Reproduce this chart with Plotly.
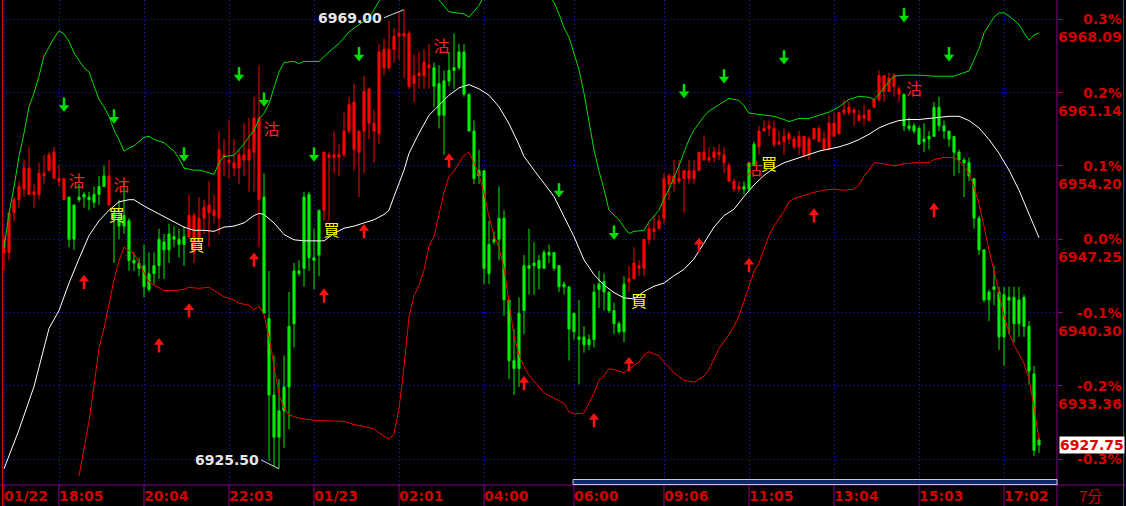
import plotly.graph_objects as go

# ---------------- DATA ----------------
# 7-minute bars, index 0..207
opens = [6946.00, 6946.00, 6949.75, 6951.00, 6952.00, 6951.50, 6951.50, 6951.50, 6953.25, 6953.75,
         6953.00, 6952.75, 6951.00, 6951.25, 6950.50, 6951.25, 6951.50, 6951.25, 6951.50, 6952.25,
         6953.25, 6950.50, 6949.75, 6949.25, 6949.50, 6949.00, 6945.25, 6945.00, 6944.75, 6944.00,
         6944.75, 6947.25, 6947.00, 6947.75, 6947.50, 6947.25, 6947.50, 6947.50, 6946.00, 6947.00,
         6949.25, 6949.75, 6949.50, 6949.25, 6955.00, 6954.50, 6954.00, 6954.00, 6954.75, 6954.75,
         6955.50, 6951.00, 6951.25, 6939.75, 6932.50, 6931.00, 6933.25, 6939.00, 6944.25, 6944.25,
         6951.25, 6951.50, 6945.50, 6950.00, 6950.00, 6955.00, 6955.00, 6955.00, 6955.25, 6957.50,
         6955.75, 6955.50, 6957.50, 6958.25, 6957.50, 6957.25, 6963.50, 6963.50, 6965.25, 6966.50,
         6966.50, 6961.75, 6962.00, 6962.75, 6962.75, 6963.50, 6963.50, 6962.00, 6962.25, 6963.25,
         6963.50, 6965.00, 6965.00, 6961.00, 6957.50, 6953.75, 6953.75, 6946.75, 6947.25, 6949.25,
         6949.25, 6941.50, 6935.75, 6940.25, 6944.75, 6944.75, 6945.00, 6945.25, 6946.00, 6946.00,
         6946.00, 6944.75, 6943.00, 6942.75, 6940.25, 6938.00, 6938.00, 6937.75, 6942.25, 6943.00,
         6943.25, 6942.25, 6940.50, 6939.25, 6943.00, 6943.25, 6943.50, 6944.50, 6944.50, 6947.25,
         6948.00, 6948.25, 6949.25, 6952.50, 6952.50, 6952.75, 6953.00, 6953.00, 6953.00, 6953.75,
         6954.75, 6954.75, 6955.00, 6955.25, 6954.50, 6952.75, 6952.00, 6952.00, 6952.25, 6954.50,
         6956.25, 6956.00, 6957.50, 6957.75, 6956.25, 6956.25, 6956.50, 6956.75, 6956.00, 6956.00,
         6955.25, 6955.25, 6956.75, 6956.50, 6955.75, 6955.75, 6957.00, 6957.25, 6959.25, 6959.25,
         6959.25, 6958.50, 6958.75, 6958.50, 6959.75, 6960.50, 6961.25, 6961.25, 6961.75, 6961.00,
         6961.00, 6958.00, 6958.00, 6957.75, 6956.75, 6957.00, 6959.75, 6959.75, 6958.00, 6957.50,
         6957.00, 6955.50, 6954.75, 6954.50, 6953.00, 6949.25, 6946.25, 6942.25, 6942.75, 6942.25,
         6942.00, 6941.75, 6941.75, 6941.50, 6941.75, 6939.00, 6934.50, 6928.25]
highs = [6947.75, 6949.75, 6951.25, 6952.75, 6954.75, 6956.00, 6952.50, 6954.50, 6955.25, 6955.50,
         6956.00, 6954.25, 6953.00, 6951.25, 6950.50, 6952.50, 6951.75, 6951.75, 6952.25, 6953.25,
         6954.25, 6954.75, 6950.25, 6951.00, 6952.75, 6949.25, 6946.00, 6945.50, 6946.75, 6946.00,
         6946.00, 6948.25, 6947.75, 6948.75, 6948.50, 6948.25, 6948.50, 6951.50, 6949.75, 6951.25,
         6951.00, 6952.75, 6951.50, 6957.50, 6956.75, 6958.50, 6956.75, 6955.75, 6958.25, 6958.75,
         6960.75, 6963.75, 6953.50, 6944.25, 6936.25, 6934.00, 6936.25, 6942.25, 6945.00, 6945.25,
         6951.75, 6951.75, 6948.25, 6950.00, 6955.50, 6955.50, 6957.50, 6956.25, 6959.25, 6960.75,
         6962.00, 6957.50, 6962.75, 6961.50, 6959.50, 6965.75, 6966.25, 6968.00, 6967.25, 6968.75,
         6969.00, 6967.00, 6964.75, 6965.00, 6965.25, 6965.75, 6964.00, 6963.75, 6963.25, 6965.00,
         6966.75, 6965.75, 6965.75, 6961.00, 6958.50, 6955.75, 6953.75, 6949.00, 6948.00, 6952.25,
         6950.00, 6941.50, 6938.75, 6941.75, 6945.75, 6948.25, 6947.00, 6945.75, 6946.25, 6946.75,
         6946.00, 6944.75, 6943.25, 6942.75, 6940.25, 6941.50, 6939.00, 6938.25, 6943.00, 6944.25,
         6944.00, 6942.25, 6941.25, 6939.50, 6943.75, 6944.75, 6946.50, 6945.25, 6947.25, 6948.75,
         6949.50, 6949.50, 6953.50, 6953.50, 6954.75, 6954.75, 6953.75, 6954.75, 6954.75, 6955.50,
         6957.00, 6956.00, 6956.00, 6956.25, 6956.00, 6954.50, 6953.00, 6952.75, 6952.75, 6954.50,
         6956.50, 6958.00, 6958.50, 6958.50, 6958.50, 6957.50, 6957.75, 6957.50, 6957.00, 6957.50,
         6957.00, 6957.00, 6957.75, 6958.00, 6957.50, 6959.00, 6959.25, 6959.25, 6960.50, 6960.25,
         6959.75, 6959.50, 6960.00, 6959.50, 6960.50, 6963.25, 6962.75, 6963.00, 6963.00, 6961.75,
         6961.00, 6958.75, 6958.25, 6958.00, 6958.25, 6957.50, 6960.25, 6960.75, 6958.50, 6957.50,
         6957.00, 6955.75, 6955.00, 6955.00, 6953.00, 6949.50, 6946.25, 6942.50, 6944.75, 6942.75,
         6942.75, 6942.75, 6942.75, 6942.75, 6942.00, 6939.50, 6935.25, 6928.50]
lows = [6944.25, 6945.25, 6949.00, 6950.25, 6951.25, 6951.50, 6950.25, 6951.00, 6952.50, 6953.75,
        6953.00, 6952.25, 6951.00, 6946.50, 6946.25, 6950.75, 6950.25, 6950.00, 6950.25, 6950.50,
        6952.25, 6950.50, 6945.00, 6947.25, 6947.75, 6944.25, 6944.25, 6943.75, 6941.75, 6942.25,
        6943.00, 6943.50, 6943.50, 6945.00, 6946.50, 6945.50, 6944.75, 6947.25, 6945.00, 6946.25,
        6947.75, 6946.50, 6948.75, 6947.75, 6953.25, 6953.00, 6953.25, 6952.50, 6953.25, 6951.75,
        6951.75, 6946.50, 6940.25, 6926.25, 6925.75, 6925.50, 6927.50, 6929.25, 6937.00, 6943.75,
        6942.75, 6944.25, 6942.50, 6943.75, 6949.00, 6949.00, 6953.50, 6953.25, 6955.00, 6957.25,
        6953.75, 6951.25, 6953.50, 6956.75, 6954.50, 6956.25, 6962.75, 6963.25, 6964.00, 6964.25,
        6962.50, 6961.50, 6960.25, 6961.50, 6961.50, 6961.50, 6959.75, 6957.75, 6955.25, 6961.75,
        6961.50, 6963.25, 6960.75, 6957.50, 6952.50, 6952.50, 6943.00, 6943.00, 6946.75, 6945.25,
        6940.00, 6934.00, 6932.50, 6933.25, 6938.25, 6942.00, 6942.00, 6942.50, 6944.50, 6945.00,
        6944.25, 6942.25, 6942.00, 6935.75, 6937.75, 6933.50, 6936.50, 6936.75, 6937.00, 6940.75,
        6940.50, 6940.25, 6938.25, 6938.25, 6937.50, 6942.25, 6943.50, 6943.75, 6943.75, 6946.75,
        6947.25, 6948.25, 6948.75, 6951.00, 6951.75, 6952.50, 6949.75, 6952.50, 6952.50, 6953.75,
        6954.75, 6954.50, 6954.50, 6954.75, 6953.50, 6952.75, 6951.75, 6951.75, 6951.50, 6951.75,
        6954.25, 6955.25, 6957.50, 6957.00, 6956.00, 6956.25, 6955.25, 6956.25, 6955.75, 6955.25,
        6955.00, 6954.75, 6956.75, 6956.50, 6955.75, 6955.75, 6957.00, 6957.25, 6959.00, 6959.00,
        6958.00, 6958.50, 6958.00, 6958.50, 6959.75, 6960.25, 6960.25, 6961.25, 6960.75, 6960.25,
        6957.50, 6957.50, 6957.25, 6956.25, 6955.50, 6955.75, 6957.00, 6957.50, 6956.75, 6956.00,
        6953.25, 6953.50, 6951.25, 6952.75, 6948.25, 6945.75, 6941.25, 6939.50, 6941.00, 6936.75,
        6935.25, 6938.25, 6937.50, 6938.00, 6938.00, 6933.50, 6926.75, 6927.00]
closes = [6947.25, 6949.75, 6951.00, 6952.25, 6954.00, 6954.00, 6951.75, 6953.50, 6953.50, 6955.25,
          6955.50, 6953.00, 6953.00, 6947.25, 6947.25, 6951.00, 6951.25, 6951.00, 6950.75, 6951.50,
          6952.25, 6953.25, 6949.25, 6948.50, 6948.50, 6945.25, 6945.00, 6944.50, 6942.75, 6942.50,
          6944.00, 6944.75, 6946.25, 6946.25, 6947.25, 6946.75, 6946.75, 6949.50, 6949.50, 6949.25,
          6950.25, 6950.50, 6950.00, 6955.75, 6955.25, 6954.75, 6954.50, 6955.25, 6955.25, 6955.75,
          6958.75, 6958.75, 6940.25, 6932.50, 6928.50, 6928.50, 6931.00, 6933.25, 6939.25, 6944.00,
          6944.50, 6945.50, 6945.25, 6945.75, 6955.50, 6955.25, 6955.25, 6955.25, 6957.50, 6960.00,
          6960.25, 6957.50, 6961.25, 6961.50, 6958.25, 6965.00, 6965.25, 6965.25, 6966.50, 6966.75,
          6966.75, 6966.75, 6962.75, 6963.00, 6964.00, 6963.75, 6961.75, 6959.00, 6959.00, 6962.25,
          6963.25, 6963.50, 6961.00, 6957.50, 6953.00, 6953.25, 6944.50, 6944.00, 6947.00, 6947.25,
          6941.50, 6935.75, 6935.00, 6935.00, 6940.50, 6944.50, 6944.75, 6944.50, 6944.50, 6945.75,
          6944.50, 6942.75, 6942.75, 6938.75, 6938.50, 6937.75, 6937.25, 6937.25, 6937.75, 6942.50,
          6942.25, 6940.50, 6939.25, 6938.50, 6938.50, 6943.50, 6945.00, 6944.75, 6947.25, 6948.25,
          6948.25, 6949.00, 6953.00, 6953.25, 6953.25, 6953.00, 6953.75, 6953.75, 6953.75, 6955.50,
          6955.50, 6955.00, 6955.50, 6955.50, 6955.25, 6954.25, 6952.75, 6952.25, 6952.00, 6952.00,
          6954.25, 6957.50, 6957.75, 6958.00, 6957.75, 6956.50, 6957.00, 6957.25, 6956.75, 6957.00,
          6957.00, 6956.75, 6957.75, 6957.75, 6956.75, 6958.25, 6958.25, 6959.25, 6959.50, 6959.75,
          6959.50, 6959.00, 6959.00, 6959.50, 6960.50, 6962.75, 6962.75, 6962.50, 6962.75, 6961.50,
          6958.00, 6957.75, 6957.50, 6956.25, 6956.50, 6956.75, 6957.00, 6958.00, 6957.50, 6956.75,
          6955.50, 6954.75, 6954.50, 6953.25, 6949.25, 6946.25, 6941.50, 6941.50, 6942.50, 6938.00,
          6938.00, 6941.50, 6939.25, 6939.25, 6939.00, 6934.75, 6927.25, 6927.75]
bar_idx = list(range(len(closes)))

# middle (white) line
mid_idx = [0, 3, 6, 9, 11, 13, 15, 17, 19, 21, 23, 25, 26, 28, 30, 32, 34, 36, 38, 40, 42, 44, 46, 48, 50,
           51, 52, 54, 56, 58, 60, 62, 64, 66, 68, 70, 72, 74, 76, 77, 78, 80, 81, 83, 85, 87, 89, 91, 93,
           95, 97, 99, 101, 103, 104, 106, 108, 110, 112, 114, 116, 118, 120, 122, 124, 126, 128, 130,
           132, 134, 136, 138, 140, 142, 144, 146, 148, 150, 152, 154, 156, 159, 161, 163, 165, 167, 169,
           171, 173, 175, 177, 179, 181, 183, 185, 187, 189, 191, 193, 195, 197, 199, 201, 203, 205, 207]
mid_val = [6925.5, 6929.2, 6933.3, 6938.8, 6940.5, 6943.1, 6945.4, 6947.6, 6949.0, 6950.0, 6950.8, 6951.0,
           6951.0, 6950.4, 6949.9, 6949.4, 6948.9, 6948.4, 6948.1, 6948.1, 6948.0, 6948.4, 6948.5, 6948.8,
           6949.5, 6949.7, 6949.6, 6948.8, 6947.7, 6947.2, 6947.1, 6947.1, 6947.1, 6947.8, 6948.3, 6948.5,
           6948.8, 6949.1, 6949.6, 6950.0, 6951.3, 6953.8, 6955.4, 6957.3, 6959.0, 6960.0, 6960.9, 6961.6,
           6961.9, 6961.5, 6960.9, 6959.8, 6958.2, 6956.2, 6955.1, 6953.8, 6952.6, 6951.3, 6949.4, 6947.5,
           6945.3, 6943.9, 6942.9, 6942.2, 6941.7, 6941.6, 6942.3, 6942.8, 6943.1, 6943.8, 6944.4, 6945.4,
           6946.9, 6948.4, 6949.5, 6950.1, 6951.3, 6952.4, 6953.3, 6954.0, 6954.5, 6955.0, 6955.3, 6955.6,
           6955.8, 6956.0, 6956.3, 6956.7, 6957.2, 6957.8, 6958.2, 6958.5, 6958.6, 6958.6, 6958.7, 6958.8,
           6958.9, 6958.9, 6958.5, 6957.8, 6956.7, 6955.4, 6953.8, 6951.9, 6949.7, 6947.4]

# upper (green) band
up_idx = [0, 1, 2, 3, 4, 5, 6, 7, 8, 9, 10, 11, 12, 13, 14, 15, 16, 17, 18, 19, 20, 21, 22, 23, 24, 25, 26,
          28, 29, 30, 32, 33, 34, 35, 36, 38, 39, 40, 42, 43, 44, 46, 47, 48, 50, 51, 52, 53, 54, 55, 56, 58,
          59, 60, 63, 65, 67, 69, 71, 73, 75, 77, 80, 84, 86, 88, 89, 92, 93, 95, 96, 100, 104, 108, 110,
          111, 112, 113, 114, 115, 116, 117, 118, 119, 120, 121, 122, 123, 124, 125, 126, 128, 129, 130,
          131, 132, 133, 134, 135, 136, 137, 138, 139, 140, 141, 143, 144, 145, 147, 148, 149, 151, 152,
          154, 156, 157, 159, 161, 163, 165, 167, 169, 171, 173, 174, 175, 177, 178, 180, 183, 186, 190,
          193, 194, 195, 196, 197, 198, 199, 200, 201, 203, 204, 205, 206, 207]
up_val = [6946.4, 6949.7, 6952.2, 6955.1, 6957.3, 6959.8, 6961.1, 6962.7, 6964.6, 6965.5, 6966.3, 6967.0,
          6966.7, 6966.0, 6964.9, 6964.2, 6963.5, 6963.1, 6961.7, 6960.5, 6959.8, 6958.9, 6957.6, 6956.7,
          6955.6, 6955.9, 6956.1, 6956.9, 6957.0, 6956.7, 6956.4, 6956.0, 6955.6, 6954.9, 6954.0, 6953.8,
          6953.8, 6953.7, 6953.4, 6954.5, 6955.1, 6955.2, 6955.7, 6956.3, 6957.6, 6958.6, 6959.2, 6960.1,
          6961.6, 6963.1, 6964.0, 6964.1, 6963.9, 6964.1, 6964.1, 6965.0, 6965.8, 6966.9, 6967.6, 6968.2,
          6969.8, 6971.0, 6972.0, 6971.5, 6970.5, 6969.4, 6968.8, 6968.6, 6968.3, 6969.4, 6970.3, 6972.5,
          6972.5, 6971.0, 6969.7, 6968.6, 6967.3, 6966.4, 6964.9, 6963.3, 6961.1, 6958.5, 6955.7, 6953.7,
          6952.0, 6950.0, 6949.5, 6949.1, 6948.4, 6947.8, 6948.0, 6948.1, 6948.9, 6949.4, 6950.0, 6951.1,
          6952.0, 6953.1, 6954.2, 6955.5, 6956.7, 6957.6, 6958.3, 6958.9, 6959.4, 6960.0, 6960.3, 6960.6,
          6960.4, 6959.9, 6959.2, 6959.1, 6959.0, 6958.9, 6958.6, 6958.4, 6958.7, 6958.7, 6959.0, 6959.3,
          6959.8, 6960.5, 6960.8, 6960.7, 6960.5, 6961.0, 6962.2, 6962.7, 6962.8, 6962.8, 6962.7, 6962.7,
          6963.2, 6964.2, 6965.3, 6966.8, 6967.5, 6968.3, 6968.7, 6968.7, 6968.4, 6967.6, 6966.8, 6966.1,
          6966.6, 6966.8]

# lower (red) band
lo_idx = [15, 16, 17, 18, 19, 20, 21, 22, 23, 24, 25, 26, 27, 28, 29, 30, 32, 34, 36, 37, 39, 41, 43, 44,
          46, 47, 49, 50, 51, 52, 53, 54, 55, 56, 57, 59, 62, 68, 70, 72, 74, 75, 77, 78, 79, 80, 81, 82,
          83, 84, 85, 86, 87, 88, 89, 90, 91, 92, 93, 94, 95, 96, 97, 98, 99, 100, 101, 102, 103, 104, 105,
          107, 108, 110, 112, 113, 114, 116, 117, 118, 119, 120, 121, 122, 124, 125, 127, 128, 129, 131,
          132, 134, 136, 138, 140, 141, 142, 143, 145, 146, 147, 148, 149, 150, 151, 152, 153, 154, 155,
          156, 157, 158, 160, 162, 164, 166, 168, 170, 171, 172, 173, 174, 176, 178, 180, 182, 185, 186,
          188, 190, 191, 193, 194, 195, 196, 197, 198, 199, 200, 201, 202, 203, 204, 205, 206, 207]
lo_val = [6924.8, 6927.3, 6930.0, 6933.4, 6936.9, 6938.8, 6941.0, 6943.4, 6945.2, 6946.5, 6946.2, 6945.9,
          6945.0, 6944.1, 6943.2, 6942.9, 6942.4, 6942.4, 6942.5, 6942.7, 6942.6, 6942.7, 6942.1, 6941.8,
          6941.5, 6941.2, 6941.0, 6940.6, 6940.9, 6940.1, 6938.0, 6935.4, 6932.5, 6931.3, 6930.6, 6930.3,
          6930.1, 6930.0, 6929.7, 6929.5, 6929.3, 6928.9, 6928.3, 6928.8, 6931.2, 6935.2, 6939.9, 6941.9,
          6942.9, 6944.3, 6946.6, 6947.5, 6949.6, 6951.7, 6953.2, 6953.7, 6954.5, 6955.2, 6955.5, 6954.5,
          6953.4, 6951.6, 6949.4, 6947.6, 6946.4, 6944.5, 6941.2, 6938.1, 6936.3, 6935.2, 6934.4, 6933.2,
          6932.7, 6932.2, 6931.7, 6930.9, 6930.7, 6930.8, 6931.7, 6932.7, 6933.9, 6934.3, 6935.0, 6934.9,
          6934.6, 6935.0, 6935.6, 6936.3, 6936.6, 6936.2, 6935.6, 6934.6, 6933.9, 6933.7, 6934.3, 6934.9,
          6935.9, 6936.9, 6938.2, 6939.0, 6940.0, 6941.4, 6942.9, 6944.2, 6945.0, 6946.4, 6947.6, 6948.5,
          6949.2, 6949.9, 6950.8, 6951.1, 6951.4, 6951.7, 6951.9, 6952.0, 6951.9, 6952.0, 6952.4, 6953.2,
          6953.8, 6954.5, 6954.4, 6954.2, 6954.4, 6954.5, 6954.5, 6954.8, 6955.0, 6955.0, 6954.7, 6953.5,
          6952.2, 6950.6, 6948.5, 6946.2, 6944.3, 6942.0, 6940.0, 6938.4, 6937.2, 6936.4, 6935.5, 6934.0,
          6931.4, 6928.2]

# signals
sell_idx = [14.5, 23.5, 53.5, 87.5, 150, 182]          # 沽
sell_px = [6952.6, 6952.2, 6957.5, 6965.4, 6953.7, 6961.3]
buy_idx = [22.5, 38.5, 65.5, 127, 153]                  # 買
buy_px = [6949.4, 6946.5, 6947.9, 6941.2, 6954.2]
dn_arrow_idx = [12, 22, 36, 47, 52, 62, 71, 111, 122, 136, 144, 156, 180, 189]
dn_arrow_px = [6959.3, 6958.2, 6954.6, 6962.2, 6959.8, 6954.6, 6964.1, 6951.2, 6947.2, 6960.6,
               6962.0, 6963.8, 6967.8, 6964.1]
up_arrow_idx = [16, 31, 37, 50, 64, 72, 89, 104, 118, 125, 139, 149, 162, 186]
up_arrow_px = [6943.9, 6937.9, 6941.2, 6946.0, 6942.6, 6948.7, 6955.4, 6934.3, 6930.8, 6936.1,
               6947.4, 6945.5, 6950.2, 6950.7]

# axis labels
x_tick_idx = [0, 11, 28, 45, 62, 79, 96, 114, 132, 149, 166, 183, 200]
x_tick_txt = ["01/22", "18:05", "20:04", "22:03", "01/23", "02:01", "04:00",
              "06:00", "09:06", "11:05", "13:04", "15:03", "17:02"]
level_px = [6968.09, 6961.14, 6954.20, 6947.25, 6940.30, 6933.36, 6926.41]
level_pct = ["0.3%", "0.2%", "0.1%", "0.0%", "-0.1%", "-0.2%", "-0.3%"]
level_txt = ["6968.09", "6961.14", "6954.20", "6947.25", "6940.30", "6933.36", ""]
hi_idx, hi_px = 80, 6969.00
lo_idx_pt, lo_px_pt = 55, 6925.50
last_px = 6927.75
period_txt = "7分"

# ---------------- FIGURE ----------------
W, H = 1126, 506
ML, MR, MT, MB = 2, 69, 0, 21
PW, PH = W - ML - MR, H - MT - MB
Y0, Y1 = 6923.97, 6969.92
PPP = PH / (Y1 - Y0)          # pixels per price point


def pxx(px):
    return (px - ML) / PW


def pxy(py):
    return (H - MB - py) / PH


RED = '#ff0000'
GREEN = '#00f000'
LBL = '#d00000'
PURPLE = '#8a008a'
GRID = '#1a1ad8'
BOLD = dict(family='DejaVu Sans', size=14, weight='bold')

fig = go.Figure()

fig.add_trace(go.Scatter(x=sell_idx, y=sell_px, mode='text', text=['沽'] * len(sell_idx),
                         textfont=dict(family='Noto Sans CJK TC', size=16, color='#ff2020'),
                         hoverinfo='skip', showlegend=False))
fig.add_trace(go.Scatter(x=mid_idx, y=mid_val, mode='lines', line=dict(color='#ffffff', width=1),
                         hoverinfo='skip', showlegend=False))
fig.add_trace(go.Scatter(x=up_idx, y=up_val, mode='lines', line=dict(color='#00dd00', width=1),
                         hoverinfo='skip', showlegend=False))
fig.add_trace(go.Scatter(x=lo_idx, y=lo_val, mode='lines', line=dict(color='#ee0000', width=1),
                         hoverinfo='skip', showlegend=False))
fig.add_trace(go.Candlestick(x=bar_idx, open=opens, high=highs, low=lows, close=closes,
                             increasing=dict(line=dict(color=RED, width=1), fillcolor=RED),
                             decreasing=dict(line=dict(color=GREEN, width=1), fillcolor=GREEN),
                             whiskerwidth=0, hoverinfo='skip', showlegend=False))
fig.add_trace(go.Scatter(x=buy_idx, y=buy_px, mode='text', text=['買'] * len(buy_idx),
                         textfont=dict(family='Noto Sans CJK TC', size=16, color='#ffff00'),
                         hoverinfo='skip', showlegend=False))


def add_arrows(idx, tips, color, down):
    s = 1 if down else -1
    fig.add_trace(go.Scatter(x=idx, y=[p + s * 4.5 / PPP for p in tips], mode='markers',
                             marker=dict(symbol='triangle-down' if down else 'triangle-up', size=9,
                                         color=color, line=dict(width=0)),
                             hoverinfo='skip', showlegend=False))
    fig.add_trace(go.Scatter(x=idx, y=[p + s * 9.5 / PPP for p in tips], mode='markers',
                             marker=dict(symbol='line-ns', size=7, color=color,
                                         line=dict(width=2.5, color=color)),
                             hoverinfo='skip', showlegend=False))


add_arrows(dn_arrow_idx, dn_arrow_px, '#00e000', True)
add_arrows(up_arrow_idx, up_arrow_px, '#ff1010', False)

ann = []
ann.append(dict(x=hi_idx, y=hi_px, xref='x', yref='y', text=f"{hi_px:.2f}", showarrow=True,
                ax=-20, ay=8, arrowhead=0, arrowwidth=1, arrowcolor='#d8d8d8',
                xanchor='right', yanchor='middle', font=dict(BOLD, color='#e6e6e6')))
ann.append(dict(x=lo_idx_pt, y=lo_px_pt, xref='x', yref='y', text=f"{lo_px_pt:.2f}", showarrow=True,
                ax=-18, ay=-9, arrowhead=0, arrowwidth=1, arrowcolor='#d8d8d8',
                xanchor='right', yanchor='middle', font=dict(BOLD, color='#e6e6e6')))

for i, t in zip(x_tick_idx, x_tick_txt):
    ann.append(dict(x=i, y=pxy(496), xref='x', yref='paper', text=t, showarrow=False,
                    xanchor='left', yanchor='middle', xshift=-2, font=dict(BOLD, color=LBL)))
ann.append(dict(x=pxx(1090), y=pxy(496), xref='paper', yref='paper', text=period_txt, showarrow=False,
                xanchor='center', yanchor='middle', font=dict(family='Noto Sans CJK TC', size=15, color=LBL)))

for p, pc, t in zip(level_px, level_pct, level_txt):
    ann.append(dict(x=pxx(1124), y=p, xref='paper', yref='y', text=pc, showarrow=False,
                    xanchor='right', yanchor='middle', font=dict(BOLD, color=LBL)))
    if t:
        ann.append(dict(x=pxx(1124), y=p, xref='paper', yref='y', text=t, showarrow=False,
                        xanchor='right', yanchor='middle', yshift=-18, font=dict(BOLD, color=LBL)))

ann.append(dict(x=pxx(1059), y=last_px, xref='paper', yref='y', text=f"{last_px:.2f}", showarrow=False,
                xanchor='left', yanchor='middle', bgcolor='#ffffff', borderpad=0,
                font=dict(BOLD, color='#e00000')))

shapes = [
    dict(type='line', xref='paper', yref='paper', x0=pxx(0), x1=pxx(W), y0=0, y1=0,
         line=dict(color=PURPLE, width=1)),
    dict(type='line', xref='paper', yref='paper', x0=1, x1=1, y0=pxy(H), y1=1,
         line=dict(color=PURPLE, width=1)),
    dict(type='line', xref='paper', yref='paper', x0=pxx(2.5), x1=pxx(2.5), y0=pxy(H), y1=1,
         line=dict(color='#e00000', width=1)),
    dict(type='line', xref='paper', yref='paper', x0=pxx(1123.5), x1=pxx(1123.5), y0=pxy(H), y1=1,
         line=dict(color='#e00000', width=1)),
    dict(type='rect', xref='paper', yref='paper', x0=pxx(573), x1=pxx(1057), y0=pxy(484.5), y1=pxy(479.5),
         fillcolor='#0c2a6a', line=dict(color='#c8c8d8', width=1)),
]
for i in x_tick_idx:
    shapes.append(dict(type='line', xref='x', yref='paper', x0=i, x1=i, y0=0, y1=pxy(H),
                       line=dict(color=PURPLE, width=1)))

fig.update_layout(
    width=W, height=H, margin=dict(l=ML, r=MR, t=MT, b=MB, pad=0),
    paper_bgcolor='#000000', plot_bgcolor='#000000', showlegend=False, boxgap=0.4,
    xaxis=dict(range=[-0.4, 210.6], tickvals=x_tick_idx, showticklabels=False, ticks='',
               showgrid=True, gridcolor=GRID, griddash='1px,3px', gridwidth=1, zeroline=False,
               showline=False, rangeslider=dict(visible=False), fixedrange=True),
    yaxis=dict(range=[Y0, Y1], tickvals=level_px, showticklabels=False, side='right',
               ticks='outside', ticklen=5, tickcolor=PURPLE, showgrid=True, gridcolor=GRID,
               griddash='1px,3px', gridwidth=1, zeroline=False, showline=False, fixedrange=True),
    annotations=ann, shapes=shapes,
)

fig.write_html("out.html", config={'displayModeBar': False},
               post_script="document.body.style.margin='0';document.body.style.background='#000';")
